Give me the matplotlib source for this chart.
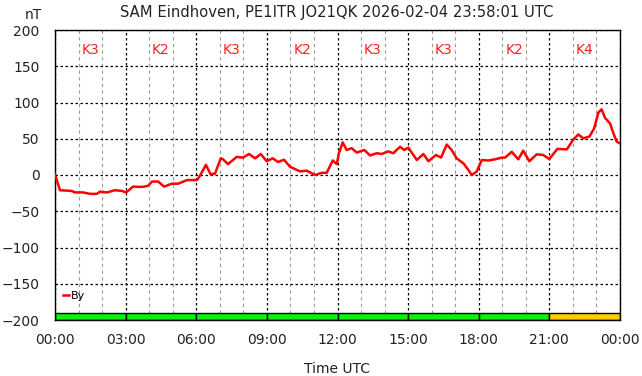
import matplotlib
matplotlib.use("Agg")
import matplotlib.pyplot as plt
from matplotlib.ticker import MultipleLocator

title = "SAM Eindhoven, PE1ITR JO21QK 2026-02-04 23:58:01 UTC"
hours = [0.00, 0.21, 0.71, 0.85, 1.19, 1.49, 1.78, 1.91, 2.21, 2.55, 2.85, 3.02, 3.14,
         3.31, 3.70, 3.95, 4.12, 4.38, 4.63, 4.97, 5.23, 5.61, 6.03, 6.16, 6.41, 6.61,
         6.80, 7.04, 7.14, 7.35, 7.72, 7.99, 8.24, 8.50, 8.74, 8.99, 9.25, 9.47, 9.73,
         9.98, 10.20, 10.41, 10.69, 11.05, 11.33, 11.54, 11.80, 11.97, 12.06, 12.22,
         12.39, 12.60, 12.82, 13.14, 13.38, 13.67, 13.88, 14.16, 14.37, 14.66, 14.83,
         15.01, 15.37, 15.65, 15.86, 16.18, 16.40, 16.64, 16.85, 17.06, 17.35, 17.56,
         17.70, 17.91, 18.13, 18.41, 18.69, 18.98, 19.12, 19.40, 19.68, 19.89, 20.15,
         20.46, 20.74, 21.00, 21.34, 21.74, 22.02, 22.23, 22.44, 22.70, 22.90, 23.08,
         23.22, 23.36, 23.58, 23.72, 23.86, 24.00]
by_values = [1, -21, -22, -24, -24, -26, -26, -23, -24, -21, -22, -24, -21,
             -16, -16.5, -15, -9, -9, -16, -12, -12, -7, -7, -1, 14, 1,
             2, 23, 21.6, 15, 25, 24, 29, 23, 29, 19, 23, 18, 21,
             11.5, 8, 5, 6, 0, 3, 3, 20, 15, 30, 45,
             34.5, 37, 31, 34.5, 27, 30, 29, 32.6, 30, 39, 34.5,
             37.7, 20.7, 29, 19, 27.6, 24, 42, 34.5, 23, 16, 7,
             0, 4.6, 20.7, 20, 21.6, 24, 24, 32, 21.6, 33.6, 19,
             28.5, 27.6, 22, 36, 35.4, 49, 56, 50.6, 53, 64, 86,
             90.6, 79, 71, 57.5, 46, 43.7]
k_block_start = [0, 3, 6, 9, 12, 15, 18, 21]
k_index = [3, 2, 3, 2, 3, 3, 2, 4]
x_ticks = ["00:00", "03:00", "06:00", "09:00", "12:00", "15:00", "18:00", "21:00", "00:00"]

plt.rcParams['font.family'] = ['DejaVu Sans']
fig = plt.figure(figsize=(6.42, 3.76), dpi=100)
ax = fig.add_axes([55/642, 56/376, 565/642, 290/376])

ax.set_xlim(0, 24)
ax.set_ylim(-200, 200)

# grid
ax.xaxis.set_major_locator(MultipleLocator(3))
ax.xaxis.set_minor_locator(MultipleLocator(1))
ax.yaxis.set_major_locator(MultipleLocator(50))
ax.grid(which='minor', axis='x', color='#999999', linestyle=(0, (3, 3)), linewidth=0.8)
ax.grid(which='major', axis='both', color='black', linestyle=(0, (2, 2)), linewidth=0.9)
ax.set_axisbelow(True)

# K-index bar
for s, k in zip(k_block_start, k_index):
    col = '#ffcc00' if k >= 4 else '#11ee11'
    ax.bar(s, 10, width=3, bottom=-200, align='edge', color=col,
           edgecolor='black', linewidth=1.0, zorder=2)
    ax.text(s + 1.5, 172, f"K{k}", color='#ff2020', ha='center', va='center',
            fontsize=10, zorder=3)

ax.plot(hours, by_values, color='#ff0000', linewidth=1.8, label='By', zorder=4)

ax.set_xticks(range(0, 25, 3))
ax.set_xticklabels(x_ticks)
ax.tick_params(axis='both', which='both', length=0, labelsize=10, colors='#222222')
ax.tick_params(axis='x', pad=9)
ax.tick_params(axis='y', pad=11)
for sp in ax.spines.values():
    sp.set_linewidth(1.0)
    sp.set_color('black')

ax.set_xlabel("Time UTC", fontsize=10, color='#222222', labelpad=11)
fig.text(33/642, 1 - 15/376, "nT", ha='center', va='center', fontsize=10, color='#222222')
fig.text(337/642, 1 - 12/376, title, ha='center', va='center', fontsize=10.6, color='#222222')

leg = ax.legend(loc='center left', bbox_to_anchor=(0.0, 0.083), frameon=False,
                handlelength=0.6, handletextpad=0.1, fontsize=8, borderaxespad=0.3)

fig.savefig("out.png", dpi=100)
